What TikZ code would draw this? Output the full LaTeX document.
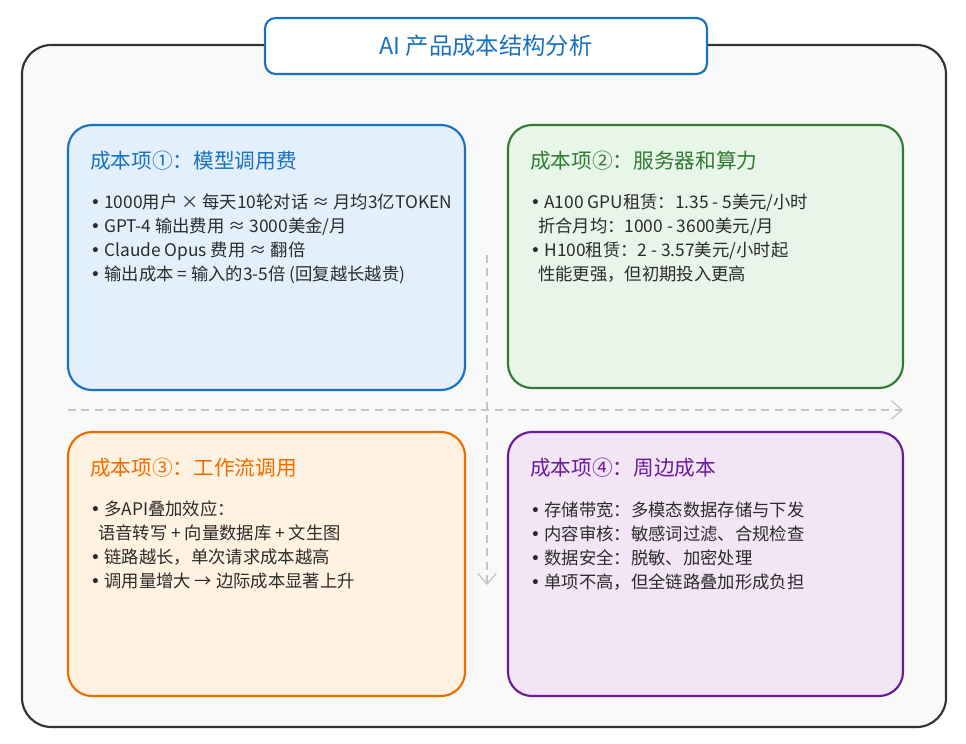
\documentclass[tikz,border=0pt]{standalone}
\usepackage{fontspec}
\setmainfont{Noto Sans CJK SC}
\newfontfamily\dvs{DejaVu Sans}
\newcommand{\bul}{{\dvs •}\ }
\usetikzlibrary{arrows.meta}
\definecolor{bluec}{HTML}{1971C2}\definecolor{bluef}{HTML}{E3F0FB}
\definecolor{greenc}{HTML}{2F7D32}\definecolor{greenf}{HTML}{E8F5E9}
\definecolor{orangec}{HTML}{EF6C00}\definecolor{orangef}{HTML}{FFF2E0}
\definecolor{purplec}{HTML}{6A1B9A}\definecolor{purplef}{HTML}{F3E5F5}
\definecolor{txt}{HTML}{2B2B2B}
\begin{document}
\begin{tikzpicture}[x=0.75pt,y=-0.75pt,
  card/.style={draw=#1,line width=1.6pt,rounded corners=18pt},
  ttl/.style={anchor=west,font=\fontsize{15.5}{18}\selectfont,inner sep=0},
  body/.style={anchor=north west,font=\fontsize{13}{18}\selectfont,text=txt,inner sep=0,align=left},
  flow/.style={draw=gray!45,dash pattern=on 6pt off 4pt,line width=1pt,-{Straight Barb[length=8pt,width=14pt]}}]
\useasboundingbox (0,0) rectangle (966,743);
\fill[white] (0,0) rectangle (966,743);
\draw[black!80,fill=gray!5,line width=1.6pt,rounded corners=22pt] (22,45) rectangle (946,727);
\node[draw=bluec,fill=white,line width=1.6pt,rounded corners=8pt,minimum width=442*0.75pt,minimum height=56*0.75pt,text=bluec,font=\fontsize{17.5}{20}\selectfont] (title) at (486,46) {AI 产品成本结构分析};
\draw[card=bluec,fill=bluef] (68,125) rectangle (465,390);
\draw[card=greenc,fill=greenf] (508,125) rectangle (903,388);
\draw[card=orangec,fill=orangef] (68,432) rectangle (465,696);
\draw[card=purplec,fill=purplef] (508,432) rectangle (903,696);
\coordinate (hs) at (68,410); \coordinate (he) at (903,410);
\coordinate (vs) at (487,255); \coordinate (ve) at (487,585);
\draw[flow] (hs) -- (he);
\draw[flow] (vs) -- (ve);
\node[ttl,text=bluec] (t1) at (90,161) {成本项①：模型调用费};
\node[ttl,text=greenc] (t2) at (530,161) {成本项②：服务器和算力};
\node[ttl,text=orangec] (t3) at (90,468) {成本项③：工作流调用};
\node[ttl,text=purplec] (t4) at (530,468) {成本项④：周边成本};
\node[body] (b1) at (90,194) {\bul 1000用户 × 每天10轮对话 ≈ 月均3亿TOKEN\\\bul GPT-4 输出费用 ≈ 3000美金/月\\\bul Claude Opus 费用 ≈ 翻倍\\\bul 输出成本 = 输入的3-5倍 (回复越长越贵)};
\node[body] (b2) at (530,194) {\bul A100 GPU租赁：1.35 - 5美元/小时\\\ \ 折合月均：1000 - 3600美元/月\\\bul H100租赁：2 - 3.57美元/小时起\\\ \ 性能更强，但初期投入更高};
\node[body] (b3) at (90,501) {\bul 多API叠加效应：\\\ \ 语音转写 + 向量数据库 + 文生图\\\bul 链路越长，单次请求成本越高\\\bul 调用量增大 → 边际成本显著上升};
\node[body] (b4) at (530,501) {\bul 存储带宽：多模态数据存储与下发\\\bul 内容审核：敏感词过滤、合规检查\\\bul 数据安全：脱敏、加密处理\\\bul 单项不高，但全链路叠加形成负担};
\end{tikzpicture}
\end{document}
